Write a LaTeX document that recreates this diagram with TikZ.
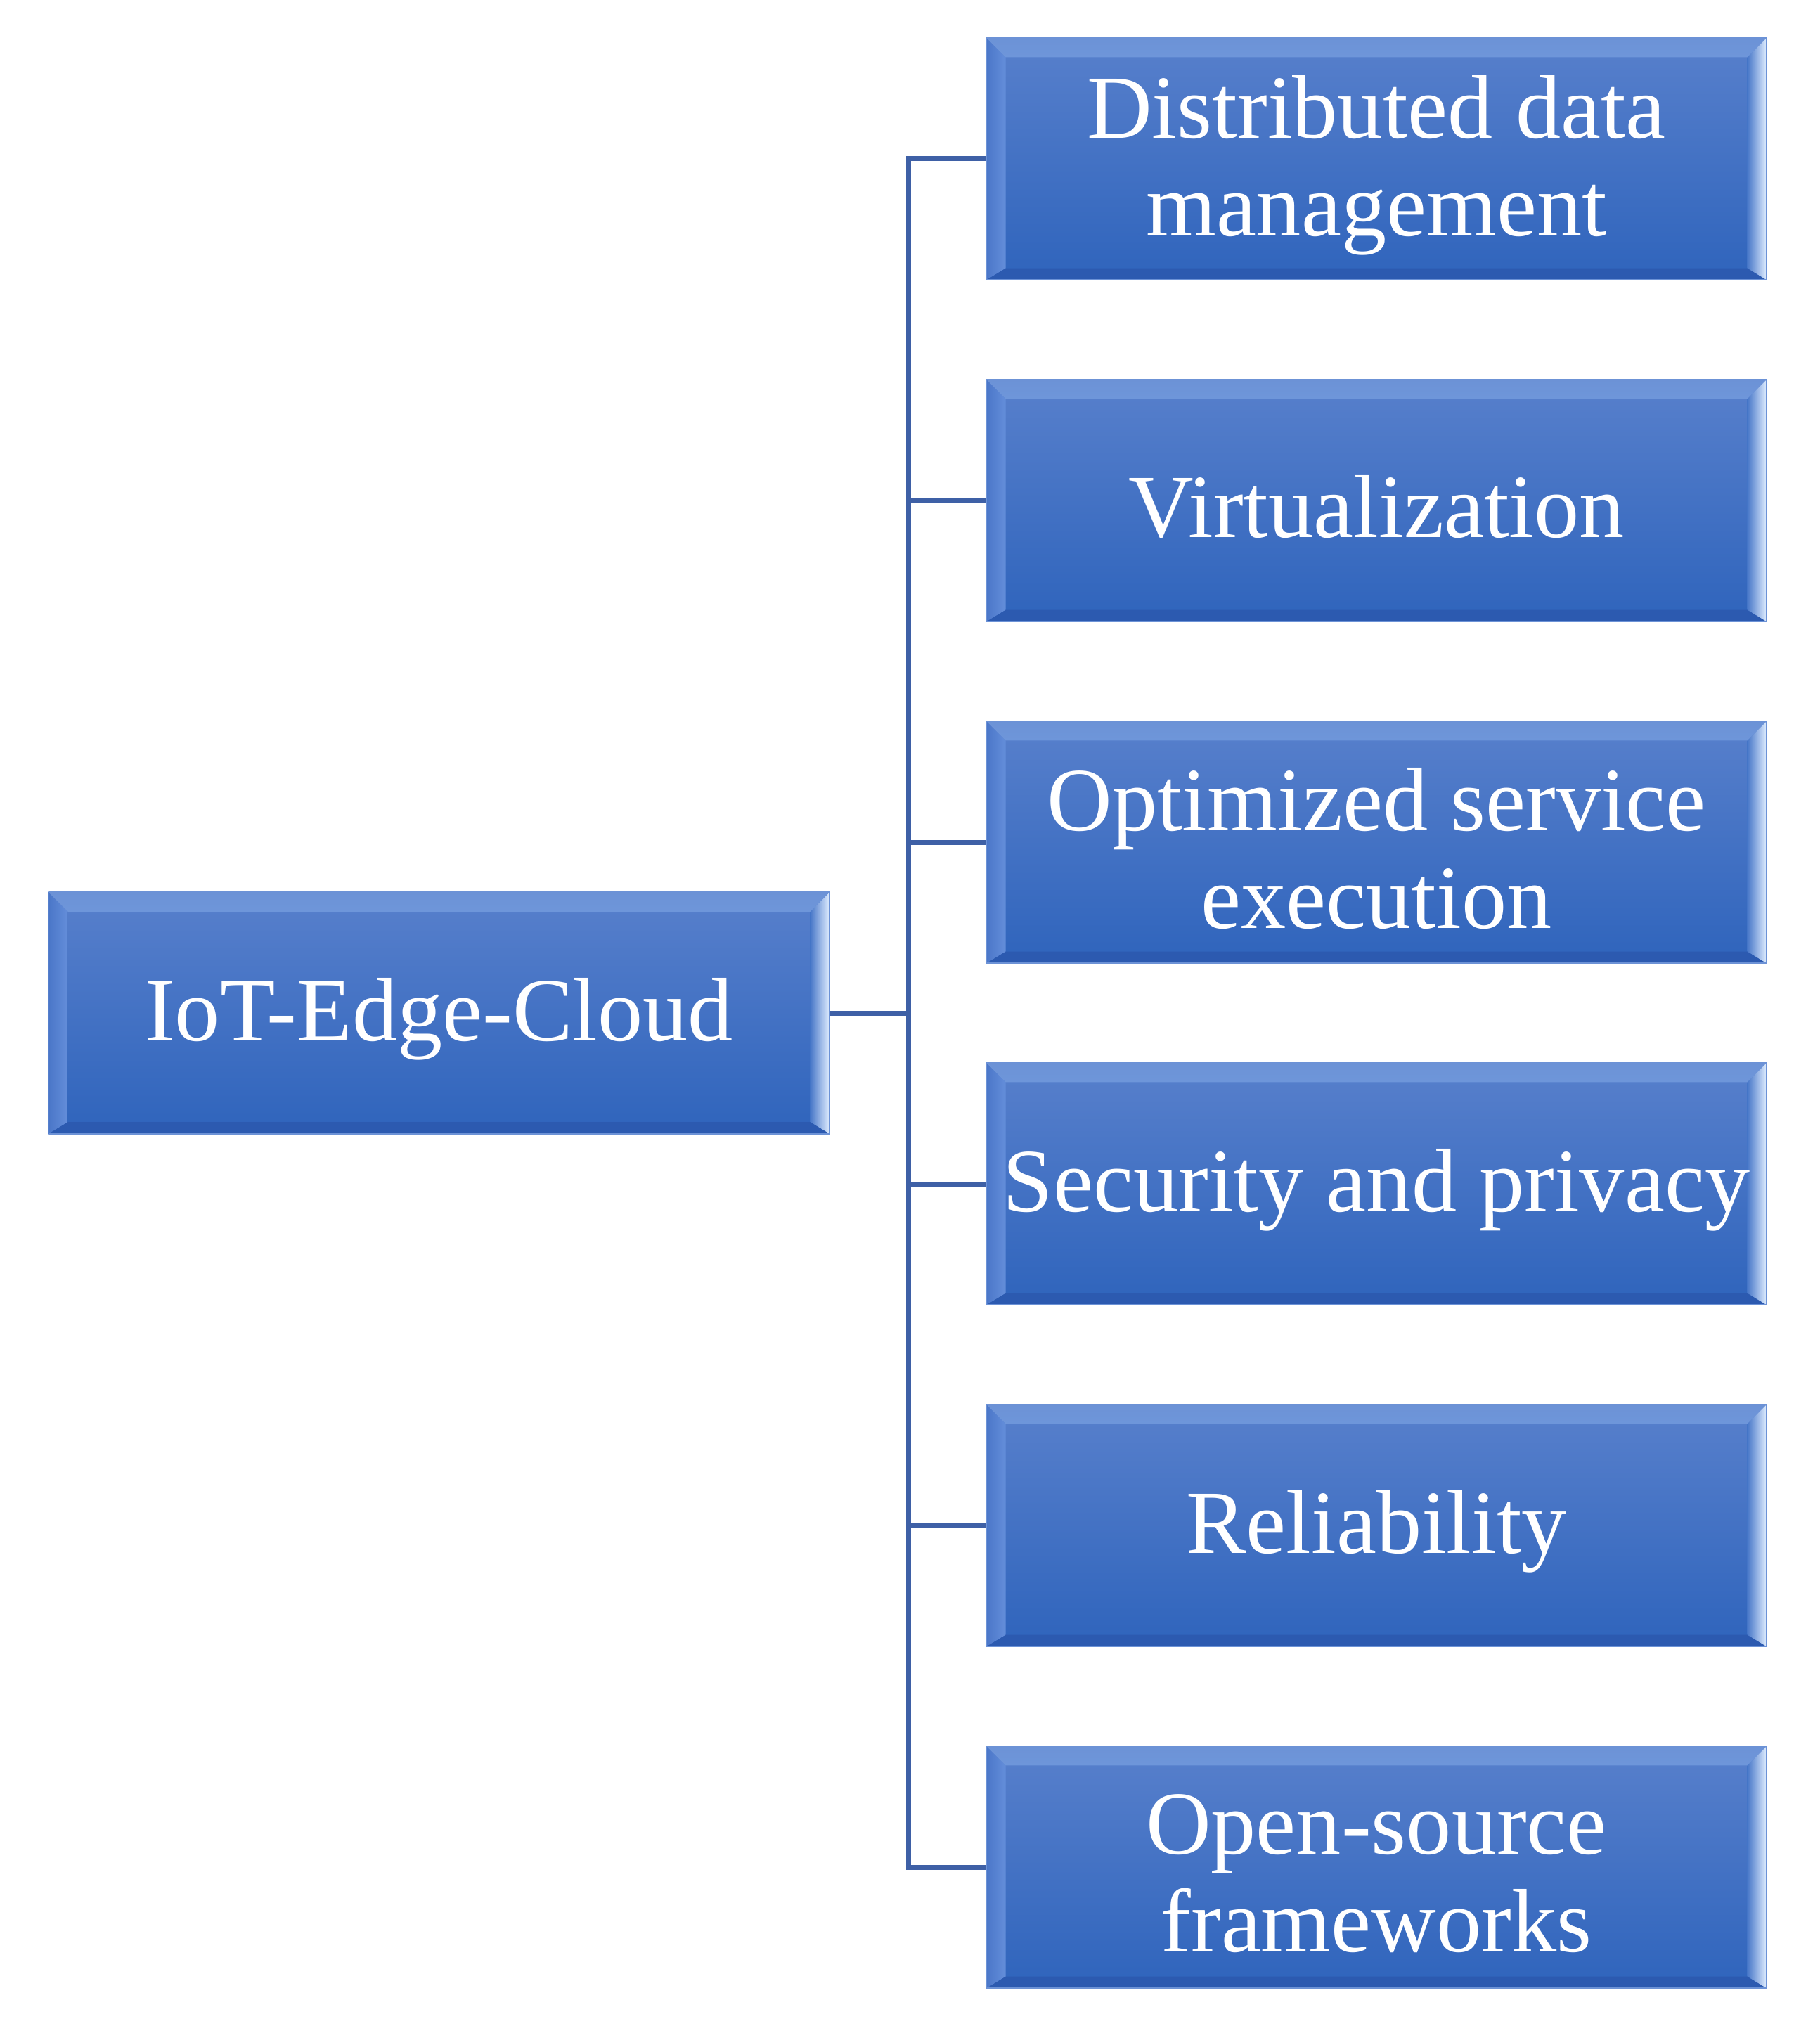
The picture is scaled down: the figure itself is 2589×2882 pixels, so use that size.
\documentclass[tikz,border=0pt]{standalone}
\usepackage{fontspec}
\setmainfont{Liberation Serif}
\usetikzlibrary{calc}
\definecolor{bodyTop}{RGB}{88,128,204}
\definecolor{bodyBot}{RGB}{47,100,188}
\definecolor{bvTopA}{RGB}{108,146,214}
\definecolor{bvTopB}{RGB}{176,208,245}
\definecolor{bvTopC}{RGB}{110,150,218}
\definecolor{bvLeftA}{RGB}{74,118,200}
\definecolor{bvLeftB}{RGB}{100,142,218}
\definecolor{bvRightA}{RGB}{70,118,200}
\definecolor{bvRightB}{RGB}{225,238,255}
\definecolor{bvBot}{RGB}{44,90,176}
\definecolor{lineCol}{RGB}{62,96,166}
\newcommand\bvw{0.28cm}
\tikzset{
  bevelbox/.style={
    rectangle, minimum width=11.1cm, minimum height=3.45cm,
    inner sep=0pt,
    top color=bodyTop, bottom color=bodyBot,
    path picture={
      \coordinate (pNW) at (path picture bounding box.north west);
      \coordinate (pNE) at (path picture bounding box.north east);
      \coordinate (pSW) at (path picture bounding box.south west);
      \coordinate (pSE) at (path picture bounding box.south east);
      \shade[left color=bvLeftA, right color=bvLeftB]
        (pNW) -- ([shift={(\bvw,-\bvw)}]pNW) -- ([shift={(\bvw,0.17cm)}]pSW) -- (pSW) -- cycle;
      \shade[left color=bvRightA, right color=bvRightB]
        (pNE) -- ([shift={(-\bvw,-\bvw)}]pNE) -- ([shift={(-\bvw,0.17cm)}]pSE) -- (pSE) -- cycle;
      \shade[top color=bvTopA, middle color=bvTopB, bottom color=bvTopC]
        (pNW) -- (pNE) -- ([shift={(-\bvw,-\bvw)}]pNE) -- ([shift={(\bvw,-\bvw)}]pNW) -- cycle;
      \fill[bvBot]
        (pSW) -- (pSE) -- ([shift={(-\bvw,0.17cm)}]pSE) -- ([shift={(\bvw,0.17cm)}]pSW) -- cycle;
      \draw[bvTopA, line width=0.8pt] (pSW) rectangle (pNE);
    }
  },
  lbl/.style={inner sep=0pt, align=center, text=white,
    font=\fontsize{36.5}{39.5}\selectfont},
  link/.style={draw=lineCol, line width=0.07cm}
}
\begin{document}
\begin{tikzpicture}[x=0.01cm, y=-0.01cm]
\useasboundingbox (0,0) rectangle (2589,2882);
\node[bevelbox, minimum width=11.11cm, minimum height=3.44cm] (root) at (624.5,1441) {};
\node[bevelbox] (b1) at (1958,226) {};
\node[bevelbox] (b2) at (1958,712) {};
\node[bevelbox] (b3) at (1958,1198) {};
\node[bevelbox] (b4) at (1958,1684) {};
\node[bevelbox] (b5) at (1958,2170) {};
\node[bevelbox] (b6) at (1958,2656) {};
\node[lbl] (t0) at ([yshift=-0.09cm]root.center) {IoT-Edge-Cloud};
\node[lbl] (t1) at ([yshift=-0.09cm]b1.center) {Distributed data\\management};
\node[lbl] (t2) at ([yshift=-0.09cm]b2.center) {Virtualization};
\node[lbl] (t3) at ([yshift=-0.09cm]b3.center) {Optimized service\\execution};
\node[lbl] (t4) at ([yshift=-0.09cm]b4.center) {Security and privacy};
\node[lbl] (t5) at ([yshift=-0.09cm]b5.center) {Reliability};
\node[lbl] (t6) at ([yshift=-0.09cm]b6.center) {Open-source\\frameworks};
\coordinate (trunk) at (1292,1441);
\draw[link] (root.east) -- (trunk);
\draw[link] (b1.west) -| (trunk |- b1.west) -- (trunk |- b6.west) -- (b6.west);
\foreach \b in {b2,b3,b4,b5}{
  \draw[link] (trunk |- \b.west) -- (\b.west);
}
\end{tikzpicture}
\end{document}
